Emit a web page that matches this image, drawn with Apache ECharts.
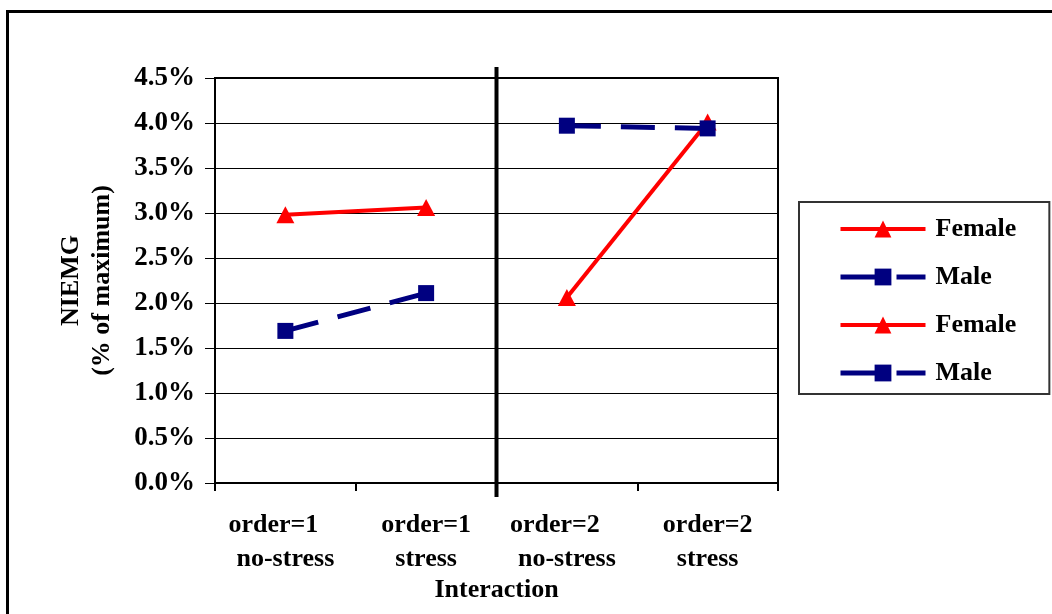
<!DOCTYPE html>
<html>
<head>
<meta charset="utf-8">
<script src="https://cdn.jsdelivr.net/npm/echarts@6/dist/echarts.min.js"></script>
<style>
html,body{margin:0;padding:0;background:#fff;}
#main{width:1052px;height:614px;}
</style>
</head>
<body>
<div id="main"></div>
<script>
// ---- data ----
const labelTop = ['order=1', 'order=1', 'order=2', 'order=2'];
const labelBottom = ['no-stress', 'stress', 'no-stress', 'stress'];
const categories = labelTop.map((t, i) => t + '\n' + labelBottom[i]);
const female1 = [2.98, 3.06, null, null];
const male1 = [1.69, 2.11, null, null];
const female2 = [null, null, 2.06, 4.01];
const male2 = [null, null, 3.97, 3.94];
const yTicks = [0, 0.5, 1.0, 1.5, 2.0, 2.5, 3.0, 3.5, 4.0, 4.5];

const FONT = '"Liberation Serif", "Times New Roman", serif';
const RED = '#FF0000';
const NAVY = '#000080';
const FS = 26;

const chart = echarts.init(document.getElementById('main'));

function femaleSeries(name, data) {
  return {
    name: name, type: 'line', data: data, connectNulls: false,
    symbol: 'triangle', symbolSize: [18, 17],
    lineStyle: { color: RED, width: 4, type: 'solid' },
    itemStyle: { color: RED },
    z: 3
  };
}
function maleSeries(name, data) {
  return {
    name: name, type: 'line', data: data, connectNulls: false,
    symbol: 'rect', symbolSize: 16,
    lineStyle: { color: NAVY, width: 5, type: [34, 20] },
    itemStyle: { color: NAVY },
    z: 4
  };
}

const option = {
  animation: false,
  backgroundColor: '#fff',
  grid: { left: 215, top: 78, width: 563, height: 405, show: true, borderColor: '#000', borderWidth: 2, backgroundColor: 'transparent' },
  textStyle: { fontFamily: FONT },
  xAxis: {
    type: 'category', data: categories, boundaryGap: true,
    axisLine: { lineStyle: { color: '#000', width: 2 } },
    axisTick: { show: true, length: 8, interval: 0, lineStyle: { color: '#000', width: 2 } },
    axisLabel: {
      interval: 0, margin: 25, color: '#000',
      formatter: function (v, i) {
        const parts = v.split('\n');
        const key = parts[1] === 'no-stress' ? 'a' : 'b';
        return '{' + key + '|' + parts[0] + '}\n{c|' + parts[1] + '}';
      },
      rich: {
        a: { fontFamily: FONT, fontWeight: 'bold', fontSize: FS, color: '#000', lineHeight: 34, padding: [0, 24, 0, 0] },
        b: { fontFamily: FONT, fontWeight: 'bold', fontSize: FS, color: '#000', lineHeight: 34 },
        c: { fontFamily: FONT, fontWeight: 'bold', fontSize: FS, color: '#000', lineHeight: 34 }
      }
    },
    name: 'Interaction', nameLocation: 'middle', nameGap: 86,
    nameTextStyle: { fontFamily: FONT, fontWeight: 'bold', fontSize: FS, color: '#000' },
    splitLine: { show: false }
  },
  yAxis: {
    type: 'value', min: yTicks[0], max: yTicks[yTicks.length - 1], interval: 0.5,
    axisLine: { show: true, lineStyle: { color: '#000', width: 2 } },
    axisTick: { show: true, length: 10, lineStyle: { color: '#000', width: 1 } },
    axisLabel: {
      margin: 20, color: '#000', fontFamily: FONT, fontWeight: 'bold', fontSize: 27,
      formatter: v => v.toFixed(1) + '%'
    },
    splitLine: { show: true, lineStyle: { color: '#000', width: 1 } },
    name: 'NIEMG\n(% of maximum)', nameLocation: 'middle', nameGap: 97, nameRotate: 90,
    nameTextStyle: { fontFamily: FONT, fontWeight: 'bold', fontSize: FS, color: '#000', lineHeight: 31 }
  },
  legend: {
    orient: 'vertical', left: 799, top: 202,
    padding: [12, 33, 6, 39],
    itemWidth: 85, itemHeight: 21, itemGap: 18,
    borderColor: '#333', borderWidth: 2, backgroundColor: '#fff',
    formatter: n => n.trim(),
    textStyle: { fontFamily: FONT, fontWeight: 'bold', fontSize: FS, color: '#000', lineHeight: 30, padding: [0, 0, 0, 5] },
    data: [
      { name: 'Female', lineStyle: { width: 4, type: 'solid' } },
      { name: 'Male', lineStyle: { width: 5, type: [46, 10] } },
      { name: 'Female ', lineStyle: { width: 4, type: 'solid' } },
      { name: 'Male ', lineStyle: { width: 5, type: [46, 10] } }
    ]
  },
  series: [
    femaleSeries('Female', female1),
    maleSeries('Male', male1),
    femaleSeries('Female ', female2),
    maleSeries('Male ', male2)
  ]
};
chart.setOption(option);

// divider between order=1 and order=2 groups, positioned from the axis scales
const x1 = chart.convertToPixel({ xAxisIndex: 0 }, categories[1]);
const x2 = chart.convertToPixel({ xAxisIndex: 0 }, categories[2]);
const yTop = chart.convertToPixel({ yAxisIndex: 0 }, yTicks[yTicks.length - 1]);
const yBot = chart.convertToPixel({ yAxisIndex: 0 }, yTicks[0]);
const xm = (x1 + x2) / 2;
chart.setOption({
  graphic: [
    { type: 'line', shape: { x1: xm, y1: yTop - 11, x2: xm, y2: yBot + 14 }, style: { stroke: '#000', lineWidth: 4 }, z: 10 },
    { type: 'rect', shape: { x: 7.5, y: 11.5, width: 1100, height: 700 }, style: { fill: 'none', stroke: '#000', lineWidth: 3 }, z: 10 }
  ]
});
</script>
</body>
</html>
